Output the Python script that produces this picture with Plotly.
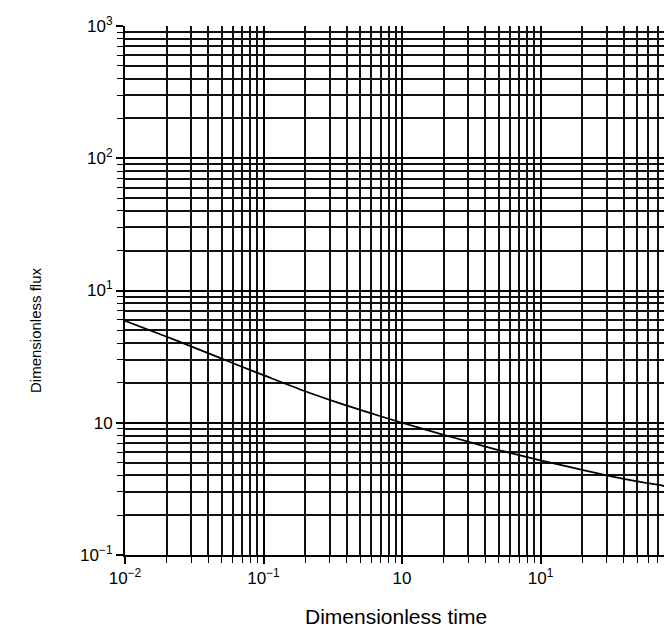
import plotly.graph_objects as go

# Data
time_values = [0.01, 0.02, 0.03, 0.05, 0.07, 0.1, 0.2, 0.3, 0.5, 0.7, 1,
               2, 3, 5, 7, 10, 20, 30, 50, 70, 100]
flux_values = [5.9, 4.47, 3.78, 3.05, 2.65, 2.29, 1.73, 1.49, 1.25, 1.12, 1.0,
               0.81, 0.72, 0.62, 0.57, 0.52, 0.44, 0.40, 0.36, 0.34, 0.315]

x_tickvals = [0.01, 0.1, 1, 10, 100]
x_ticktext = ["10<sup>−2</sup>", "10<sup>−1</sup>", "10", "10<sup>1</sup>", ""]
y_tickvals = [0.1, 1, 10, 100, 1000]
y_ticktext = ["10<sup>−1</sup>", "10", "10<sup>1</sup>", "10<sup>2</sup>", "10<sup>3</sup>"]

x_decades = [-2, -1, 0, 1]
y_decades = [-1, 0, 1, 2]
minor_multipliers = [2, 3, 4, 5, 6, 7, 8, 9]
x_minor = [m * 10 ** d for d in x_decades for m in minor_multipliers]
y_minor = [m * 10 ** d for d in y_decades for m in minor_multipliers]

FONT = "Liberation Sans, Arial, sans-serif"

fig = go.Figure()
fig.add_trace(go.Scatter(
    x=time_values, y=flux_values, mode="lines",
    line=dict(color="black", width=1.8, shape="spline", smoothing=0.8),
    showlegend=False,
))

common_axis = dict(
    type="log",
    showgrid=True, gridcolor="black", gridwidth=1.8,
    showline=True, linecolor="black", linewidth=2,
    ticks="outside", ticklen=7, tickcolor="black", tickwidth=1.5,
    tickfont=dict(family=FONT, size=17, color="black"),
    zeroline=False,
)

fig.update_xaxes(
    **common_axis,
    range=[-2, 2.0],
    tickmode="array", tickvals=x_tickvals, ticktext=x_ticktext,
    minor=dict(tickmode="array", tickvals=x_minor, showgrid=True,
               gridcolor="#111111", gridwidth=1.6,
               ticks="outside", ticklen=6, tickcolor="black", tickwidth=1.2),
)
fig.update_yaxes(
    **common_axis,
    range=[-1, 3],
    tickmode="array", tickvals=y_tickvals, ticktext=y_ticktext,
    minor=dict(tickmode="array", tickvals=y_minor, showgrid=True,
               gridcolor="#111111", gridwidth=1.6,
               ticks="outside", ticklen=6, tickcolor="black", tickwidth=1.2),
)

fig.update_layout(
    width=672, height=628,
    margin=dict(l=117, r=1, t=18, b=81),
    plot_bgcolor="white", paper_bgcolor="white",
    font=dict(family=FONT, color="black"),
    annotations=[
        dict(text="Dimensionless time", xref="paper", yref="paper",
             x=(388 - 117) / 554, y=-(608 - 547) / 529,
             xanchor="center", yanchor="middle", showarrow=False,
             font=dict(family=FONT, size=21, color="black")),
        dict(text="Dimensionless flux", xref="paper", yref="paper",
             x=(28 - 117) / 554, y=(547 - 322) / 529,
             xanchor="center", yanchor="middle", showarrow=False, textangle=-90,
             font=dict(family=FONT, size=15, color="black")),
    ],
)

fig.write_html("out.html")
